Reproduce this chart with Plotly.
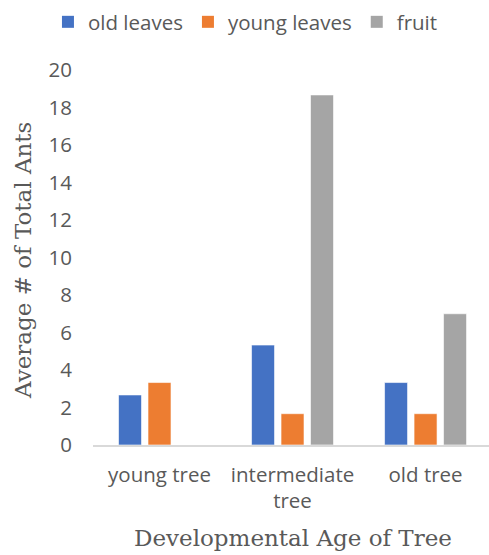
import plotly.graph_objects as go

# Average ant counts per plant part, by developmental age of tree
categories = ["young tree", "intermediate<br>tree", "old tree"]
old_leaves = [2.67, 5.33, 3.33]
young_leaves = [3.33, 1.67, 1.67]
fruit = [0, 18.67, 7.0]

series_names = ["old leaves", "young leaves", "fruit"]
series_colors = ["#4472C4", "#ED7D31", "#A5A5A5"]
y_ticks = list(range(0, 21, 2))

label_font = dict(family="Open Sans", size=20.5, color="#595959")
title_font = dict(family="DejaVu Serif", size=23, color="#595959")

fig = go.Figure()
for name, vals, color in zip(series_names, [old_leaves, young_leaves, fruit], series_colors):
    fig.add_trace(go.Bar(
        name=name, x=categories, y=vals, showlegend=False,
        marker=dict(color=color, line=dict(color="rgba(255,255,255,0.6)", width=1)),
    ))
    # legend key drawn as a plain square marker
    fig.add_trace(go.Scatter(
        name=name, x=[None], y=[None], mode="markers",
        marker=dict(symbol="square", size=12, color=color),
    ))

fig.update_layout(
    width=489, height=555,
    margin=dict(l=93, r=0, t=70, b=110),
    paper_bgcolor="white", plot_bgcolor="white",
    barmode="group", bargap=0.335, bargroupgap=0.22,
    font=label_font,
    showlegend=True,
    legend=dict(
        orientation="h", x=0.385, xanchor="center", y=1.128, yanchor="middle",
        font=label_font, itemwidth=30, traceorder="normal",
    ),
    xaxis=dict(
        range=[-0.5, 2.477], showline=True, linecolor="#D9D9D9", linewidth=2,
        ticks="", tickfont=label_font, showgrid=False, ticklabelstandoff=10,
    ),
    yaxis=dict(
        range=[0, 20], tickvals=y_ticks, showline=False, showgrid=False,
        zeroline=False, ticks="", ticklabelstandoff=20, tickfont=label_font,
    ),
    annotations=[
        dict(text="Average # of Total Ants", xref="paper", yref="paper",
             x=(23 - 93) / 396, y=(445 - 261) / 375, textangle=-90,
             showarrow=False, xanchor="center", yanchor="middle", font=title_font),
        dict(text="Developmental Age of Tree", xref="paper", yref="paper",
             x=(292.5 - 93) / 396, y=(445 - 538) / 375,
             showarrow=False, xanchor="center", yanchor="middle", font=title_font),
    ],
)

fig.write_html("out.html")
